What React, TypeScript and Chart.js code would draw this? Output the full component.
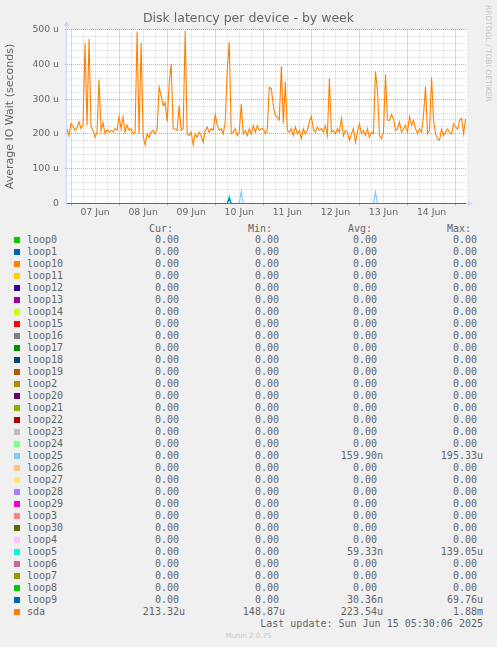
import React, { useEffect, useRef } from "react";
import { Chart, registerables } from "chart.js";

Chart.register(...registerables);

// Time axis: hours counted from 2025-06-07 00:00, one sample per hour
const firstHour = -2;
const lastHour = 197.7;
const dayLabels = ["07 Jun", "08 Jun", "09 Jun", "10 Jun", "11 Jun", "12 Jun", "13 Jun", "14 Jun"];
const yMin = 0;
const yMax = 500;

// sda average IO wait (microseconds), hourly from hour -2 to hour 197
const sdaValues = [
  215, 195,
  230, 222, 210, 218, 235, 215, 225, 460, 225, 473, 222, 210, 190, 205, 356, 210, 232, 200, 212, 205, 210, 205, 215, 210,
  250, 215, 248, 205, 225, 210, 215, 200, 205, 494, 200, 462, 195, 168, 200, 190, 205, 210, 200, 215, 334, 310, 282, 290,
  235, 344, 401, 215, 214, 210, 282, 210, 215, 497, 200, 195, 205, 168, 200, 190, 205, 195, 176, 210, 220, 205, 215, 210,
  255, 225, 210, 215, 200, 234, 382, 464, 200, 205, 215, 195, 205, 286, 200, 210, 195, 215, 200, 224, 205, 224, 210, 215,
  214, 200, 215, 334, 330, 282, 253, 248, 240, 394, 230, 349, 210, 205, 215, 195, 220, 200, 210, 186, 215, 200, 210, 234,
  250, 213, 205, 220, 210, 215, 205, 224, 195, 360, 205, 210, 200, 215, 205, 245, 195, 210, 205, 181, 200, 215, 176, 205,
  229, 200, 210, 195, 215, 190, 205, 200, 380, 325, 195, 186, 205, 371, 240, 239, 255, 243, 210, 215, 234, 205, 214, 225,
  205, 250, 225, 239, 215, 200, 214, 205, 255, 336, 200, 210, 363, 240, 200, 186, 181, 214, 195, 205, 214, 205, 200, 229,
  220, 214, 239, 245, 200, 243,
];

// loop devices are zero except for these [hour, value] samples
const loop5Spikes: [number, number][] = [[79, 23]];
const loop9Spikes: [number, number][] = [[79, 14]];
const loop25Spikes: [number, number][] = [[85, 35], [152, 33]];

const seriesNames = [
  "loop0", "loop1", "loop10", "loop11", "loop12", "loop13", "loop14", "loop15", "loop16", "loop17", "loop18", "loop19",
  "loop2", "loop20", "loop21", "loop22", "loop23", "loop24", "loop25", "loop26", "loop27", "loop28", "loop29",
  "loop3", "loop30", "loop4", "loop5", "loop6", "loop7", "loop8", "loop9", "sda",
];
const seriesColors = [
  "#00CC00", "#0066B3", "#FF8000", "#FFCC00", "#330099", "#990099", "#CCFF00", "#FF0000", "#808080", "#008F00", "#00487D", "#B35A00",
  "#B38F00", "#6B006B", "#8FB300", "#B30000", "#BEBEBE", "#80FF80", "#80C9FF", "#FFC080", "#FFE680", "#AA80FF", "#EE00CC",
  "#FF8080", "#666600", "#FFBFFF", "#00FFCC", "#CC6699", "#999900", "#00CC00", "#0066B3", "#FF8000",
];
const curValues = [
  "0.00", "0.00", "0.00", "0.00", "0.00", "0.00", "0.00", "0.00", "0.00", "0.00", "0.00", "0.00",
  "0.00", "0.00", "0.00", "0.00", "0.00", "0.00", "0.00", "0.00", "0.00", "0.00", "0.00",
  "0.00", "0.00", "0.00", "0.00", "0.00", "0.00", "0.00", "0.00", "213.32u",
];
const minValues = [
  "0.00", "0.00", "0.00", "0.00", "0.00", "0.00", "0.00", "0.00", "0.00", "0.00", "0.00", "0.00",
  "0.00", "0.00", "0.00", "0.00", "0.00", "0.00", "0.00", "0.00", "0.00", "0.00", "0.00",
  "0.00", "0.00", "0.00", "0.00", "0.00", "0.00", "0.00", "0.00", "148.87u",
];
const avgValues = [
  "0.00", "0.00", "0.00", "0.00", "0.00", "0.00", "0.00", "0.00", "0.00", "0.00", "0.00", "0.00",
  "0.00", "0.00", "0.00", "0.00", "0.00", "0.00", "159.90n", "0.00", "0.00", "0.00", "0.00",
  "0.00", "0.00", "0.00", "59.33n", "0.00", "0.00", "0.00", "30.36n", "223.54u",
];
const maxValues = [
  "0.00", "0.00", "0.00", "0.00", "0.00", "0.00", "0.00", "0.00", "0.00", "0.00", "0.00", "0.00",
  "0.00", "0.00", "0.00", "0.00", "0.00", "0.00", "195.33u", "0.00", "0.00", "0.00", "0.00",
  "0.00", "0.00", "0.00", "139.05u", "0.00", "0.00", "0.00", "69.76u", "1.88m",
];
const columnHeaders = ["Cur:", "Min:", "Avg:", "Max:"];
const titleText = "Disk latency per device - by week";
const yAxisTitle = "Average IO Wait (seconds)";
const lastUpdateText = "Last update: Sun Jun 15 05:30:06 2025";
const watermarkText = "Munin 2.0.75";
const sideText = "RRDTOOL / TOBI OETIKER";

const MAJOR_GRID = "rgba(222,79,79,0.55)";
const MINOR_GRID = "rgba(160,160,160,0.42)";
const AXIS_COLOR = "#CFD6F8";
const FONT_COLOR = "#666666";

const hours = sdaValues.map((_, i) => firstHour + i);

function spikesFor(name: string): [number, number][] {
  if (name === "loop5") return loop5Spikes;
  if (name === "loop9") return loop9Spikes;
  if (name === "loop25") return loop25Spikes;
  return [];
}

function seriesData(name: string) {
  if (name === "sda") return sdaValues.map((v, i) => ({ x: hours[i], y: v }));
  const m = new Map(spikesFor(name));
  return hours.map((h) => ({ x: h, y: m.get(h) ?? 0 }));
}

const xTickHours: number[] = [];
for (let d = 0; d <= dayLabels.length; d++) {
  for (let q = 0; q < 4; q++) {
    const h = d * 24 + q * 6;
    if (h <= lastHour) xTickHours.push(h);
  }
}

const rrdPlugin = {
  id: "rrdCanvas",
  beforeDraw(chart: any) {
    const { ctx, chartArea: a } = chart;
    ctx.save();
    ctx.fillStyle = "#FFFFFF";
    ctx.fillRect(Math.round(a.left), Math.round(a.top), Math.round(a.right - a.left), Math.round(a.bottom - a.top));
    ctx.restore();
  },
  beforeDatasetsDraw(chart: any) {
    const { ctx, chartArea: a } = chart;
    const L = Math.round(a.left) - 0.5;
    const B = Math.floor(a.bottom) + 0.5;
    const T = Math.round(a.top);
    const R = Math.round(a.right);
    ctx.save();
    ctx.strokeStyle = AXIS_COLOR;
    ctx.fillStyle = AXIS_COLOR;
    ctx.lineWidth = 1;
    ctx.beginPath();
    ctx.moveTo(L, B + 2.5);
    ctx.lineTo(L, T - 5);
    ctx.moveTo(L - 3.5, B);
    ctx.lineTo(R + 2, B);
    ctx.stroke();
    ctx.beginPath();
    ctx.moveTo(L - 3, T - 4);
    ctx.lineTo(L + 3, T - 4);
    ctx.lineTo(L, T - 9);
    ctx.closePath();
    ctx.fill();
    ctx.beginPath();
    ctx.moveTo(R + 1, B - 3);
    ctx.lineTo(R + 1, B + 3);
    ctx.lineTo(R + 6, B);
    ctx.closePath();
    ctx.fill();
    ctx.restore();
  },
};

const ROW0_BASELINE = 243;
const ROW_PITCH = 12;
const LEGEND_FONT = 10;
const BASE_OFFSET = 9.46;

const valueRightEdges = [185, 285, 383, 483];
const headerLefts = [149, 248, 348, 447];

function withSuffix(v: string) {
  return /[a-zA-Z]$/.test(v) ? v : v + " ";
}

export default function App() {
  const canvasRef = useRef<HTMLCanvasElement | null>(null);

  useEffect(() => {
    const canvas = canvasRef.current;
    if (!canvas) return;
    Chart.defaults.font.family = "'DejaVu Sans', sans-serif";
    // drawn first = bottom; sda last so it sits on top, loop9 just beneath it
    const drawOrder = seriesNames.map((_, i) => i).reverse();
    const chart = new Chart(canvas, {
      type: "line",
      data: {
        datasets: drawOrder.map((i) => ({
          label: seriesNames[i],
          data: seriesData(seriesNames[i]),
          borderColor: seriesColors[i],
          backgroundColor: seriesColors[i],
          borderWidth: 1.1,
          pointRadius: 0,
          tension: 0,
          fill: false,
        })),
      },
      options: {
        animation: false,
        responsive: false,
        devicePixelRatio: 1,
        events: [],
        layout: { padding: { left: 0, right: 30, top: 29.5, bottom: 0 } },
        plugins: {
          legend: { display: false },
          title: { display: false },
          tooltip: { enabled: false },
        },
        scales: {
          x: {
            type: "linear",
            min: firstHour,
            max: lastHour,
            afterFit: (s: any) => {
              s.height = 16.5;
            },
            afterBuildTicks: (s: any) => {
              s.ticks = xTickHours.map((v) => ({ value: v }));
            },
            ticks: {
              autoSkip: false,
              maxRotation: 0,
              minRotation: 0,
              padding: 2,
              color: FONT_COLOR,
              font: { size: 9.3 },
              callback: (v: any) => {
                const n = Number(v);
                return n % 24 === 12 ? dayLabels[(n - 12) / 24] : "";
              },
            },
            grid: {
              color: (ctx: any) => (ctx.tick && ctx.tick.value % 24 === 0 ? MAJOR_GRID : MINOR_GRID),
              tickColor: (ctx: any) => (ctx.tick && ctx.tick.value % 24 === 0 ? MAJOR_GRID : "rgba(0,0,0,0)"),
              tickLength: 2,
              lineWidth: 1,
            },
            border: { display: false, dash: [1, 1] },
          },
          y: {
            type: "linear",
            min: yMin,
            max: yMax,
            afterFit: (s: any) => {
              s.width = 67;
            },
            ticks: {
              stepSize: 20,
              autoSkip: false,
              padding: 6,
              color: FONT_COLOR,
              font: { size: 9.3 },
              callback: (v: any) => {
                const n = Number(v);
                if (n % 100 !== 0) return "";
                return n === 0 ? "0" : n + " u";
              },
            },
            grid: {
              color: (ctx: any) => (ctx.tick && ctx.tick.value % 100 === 0 ? MAJOR_GRID : MINOR_GRID),
              tickColor: (ctx: any) => (ctx.tick && ctx.tick.value % 100 === 0 ? MAJOR_GRID : "rgba(0,0,0,0)"),
              tickLength: 2,
              lineWidth: 1,
            },
            border: { display: false, dash: [1, 1] },
            title: {
              display: true,
              text: yAxisTitle,
              color: FONT_COLOR,
              font: { size: 11 },
              padding: { top: 4, bottom: 0 },
            },
          },
        },
      } as any,
      plugins: [rrdPlugin],
    });
    return () => chart.destroy();
  }, []);

  const mono = "'DejaVu Sans Mono', monospace";
  const rowTop = (i: number) => ROW0_BASELINE + ROW_PITCH * i - BASE_OFFSET;
  const columns = [curValues, minValues, avgValues, maxValues];

  return (
    <div
      style={{
        position: "absolute",
        left: 0,
        top: 0,
        width: 497,
        height: 647,
        background: "#F0F0F0",
        overflow: "hidden",
        color: FONT_COLOR,
        fontFamily: "'DejaVu Sans', sans-serif",
      }}
    >
      <canvas ref={canvasRef} width={497} height={220} style={{ position: "absolute", left: 0, top: 0 }} />
      <div
        style={{
          position: "absolute",
          left: 0,
          width: 497,
          top: 12.1,
          textAlign: "center",
          fontSize: 12.5,
          lineHeight: "12.5px",
          whiteSpace: "nowrap",
        }}
      >
        {titleText}
      </div>
      <div
        style={{
          position: "absolute",
          left: 483.5,
          top: 5,
          writingMode: "vertical-rl",
          fontSize: 7.5,
          lineHeight: "8px",
          color: "#C4C4C4",
          whiteSpace: "nowrap",
        }}
      >
        {sideText}
      </div>
      {columnHeaders.map((h, c) => (
        <div
          key={h}
          style={{
            position: "absolute",
            left: headerLefts[c],
            top: 232 - BASE_OFFSET,
            fontFamily: mono,
            fontSize: LEGEND_FONT,
            lineHeight: ROW_PITCH + "px",
            whiteSpace: "pre",
          }}
        >
          {h}
        </div>
      ))}
      {seriesNames.map((name, i) => (
        <React.Fragment key={name}>
          <div
            style={{
              position: "absolute",
              left: 14,
              top: ROW0_BASELINE + ROW_PITCH * i - 6.3,
              width: 6,
              height: 6,
              background: seriesColors[i],
            }}
          />
          <div
            style={{
              position: "absolute",
              left: 27,
              top: rowTop(i),
              fontFamily: mono,
              fontSize: LEGEND_FONT,
              lineHeight: ROW_PITCH + "px",
              whiteSpace: "pre",
            }}
          >
            {name}
          </div>
          {columns.map((col, c) => (
            <div
              key={c}
              style={{
                position: "absolute",
                right: 497 - valueRightEdges[c],
                top: rowTop(i),
                fontFamily: mono,
                fontSize: LEGEND_FONT,
                lineHeight: ROW_PITCH + "px",
                whiteSpace: "pre",
                textAlign: "right",
              }}
            >
              {withSuffix(col[i])}
            </div>
          ))}
        </React.Fragment>
      ))}
      <div
        style={{
          position: "absolute",
          right: 497 - 483,
          top: 627.5 - BASE_OFFSET,
          fontFamily: mono,
          fontSize: LEGEND_FONT,
          lineHeight: ROW_PITCH + "px",
          whiteSpace: "pre",
        }}
      >
        {lastUpdateText}
      </div>
      <div
        style={{
          position: "absolute",
          left: 0,
          width: 497,
          top: 633.4,
          textAlign: "center",
          fontSize: 7,
          lineHeight: "7px",
          color: "#C8C8C8",
          whiteSpace: "nowrap",
        }}
      >
        {watermarkText}
      </div>
    </div>
  );
}
